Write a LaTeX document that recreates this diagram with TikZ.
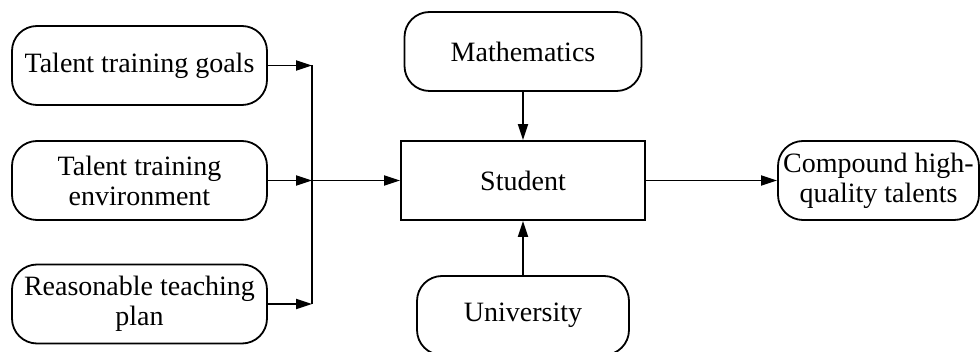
\documentclass[tikz,border=0pt]{standalone}
\usepackage{fontspec}
\setmainfont{Liberation Serif}
\usetikzlibrary{arrows.meta}

\begin{document}
\begin{tikzpicture}[x=0.5pt,y=-0.5pt,line width=0.9pt,
  every node/.style={font=\fontsize{14}{15}\selectfont,align=center,inner sep=2pt},
  roundbox/.style={draw,rounded corners=12.5pt,minimum height=39.5pt},
  squarebox/.style={draw,minimum height=39.5pt},
  arr/.style={-{Triangle[length=8pt,width=5pt]}}]
\useasboundingbox (0,0) rectangle (980,352);
% inputs on the left
\node[roundbox,minimum width=127.5pt] (goals) at (139.5,65.5) {Talent training goals};
\node[roundbox,minimum width=127.5pt] (env) at (139.5,180.5) {Talent training\\environment};
\node[roundbox,minimum width=127.5pt] (plan) at (139.5,304) {Reasonable teaching\\plan};
% centre column
\node[squarebox,minimum width=122pt] (student) at (523,180.5) {Student};
\node[roundbox,minimum width=118.5pt] (math) at (523,51.5) {Mathematics};
\node[roundbox,minimum width=106pt] (univ) at (523,315.5) {University};
\node[roundbox,minimum width=100.5pt,inner sep=1pt] (talents) at (878.5,180.5) {Compound high-\\quality talents};
\coordinate (junc) at (312,180.5);
% connectors
\draw[arr] (goals) -- (goals -| junc);
\draw[arr] (env) -- (junc);
\draw[arr] (plan) -- (plan -| junc);
\draw (goals -| junc) -- (plan -| junc);
\draw[arr] (junc) -- (student);
\draw[arr] (math) -- (student);
\draw[arr] (univ) -- (student);
\draw[arr] (student) -- (talents);
\end{tikzpicture}
\end{document}
